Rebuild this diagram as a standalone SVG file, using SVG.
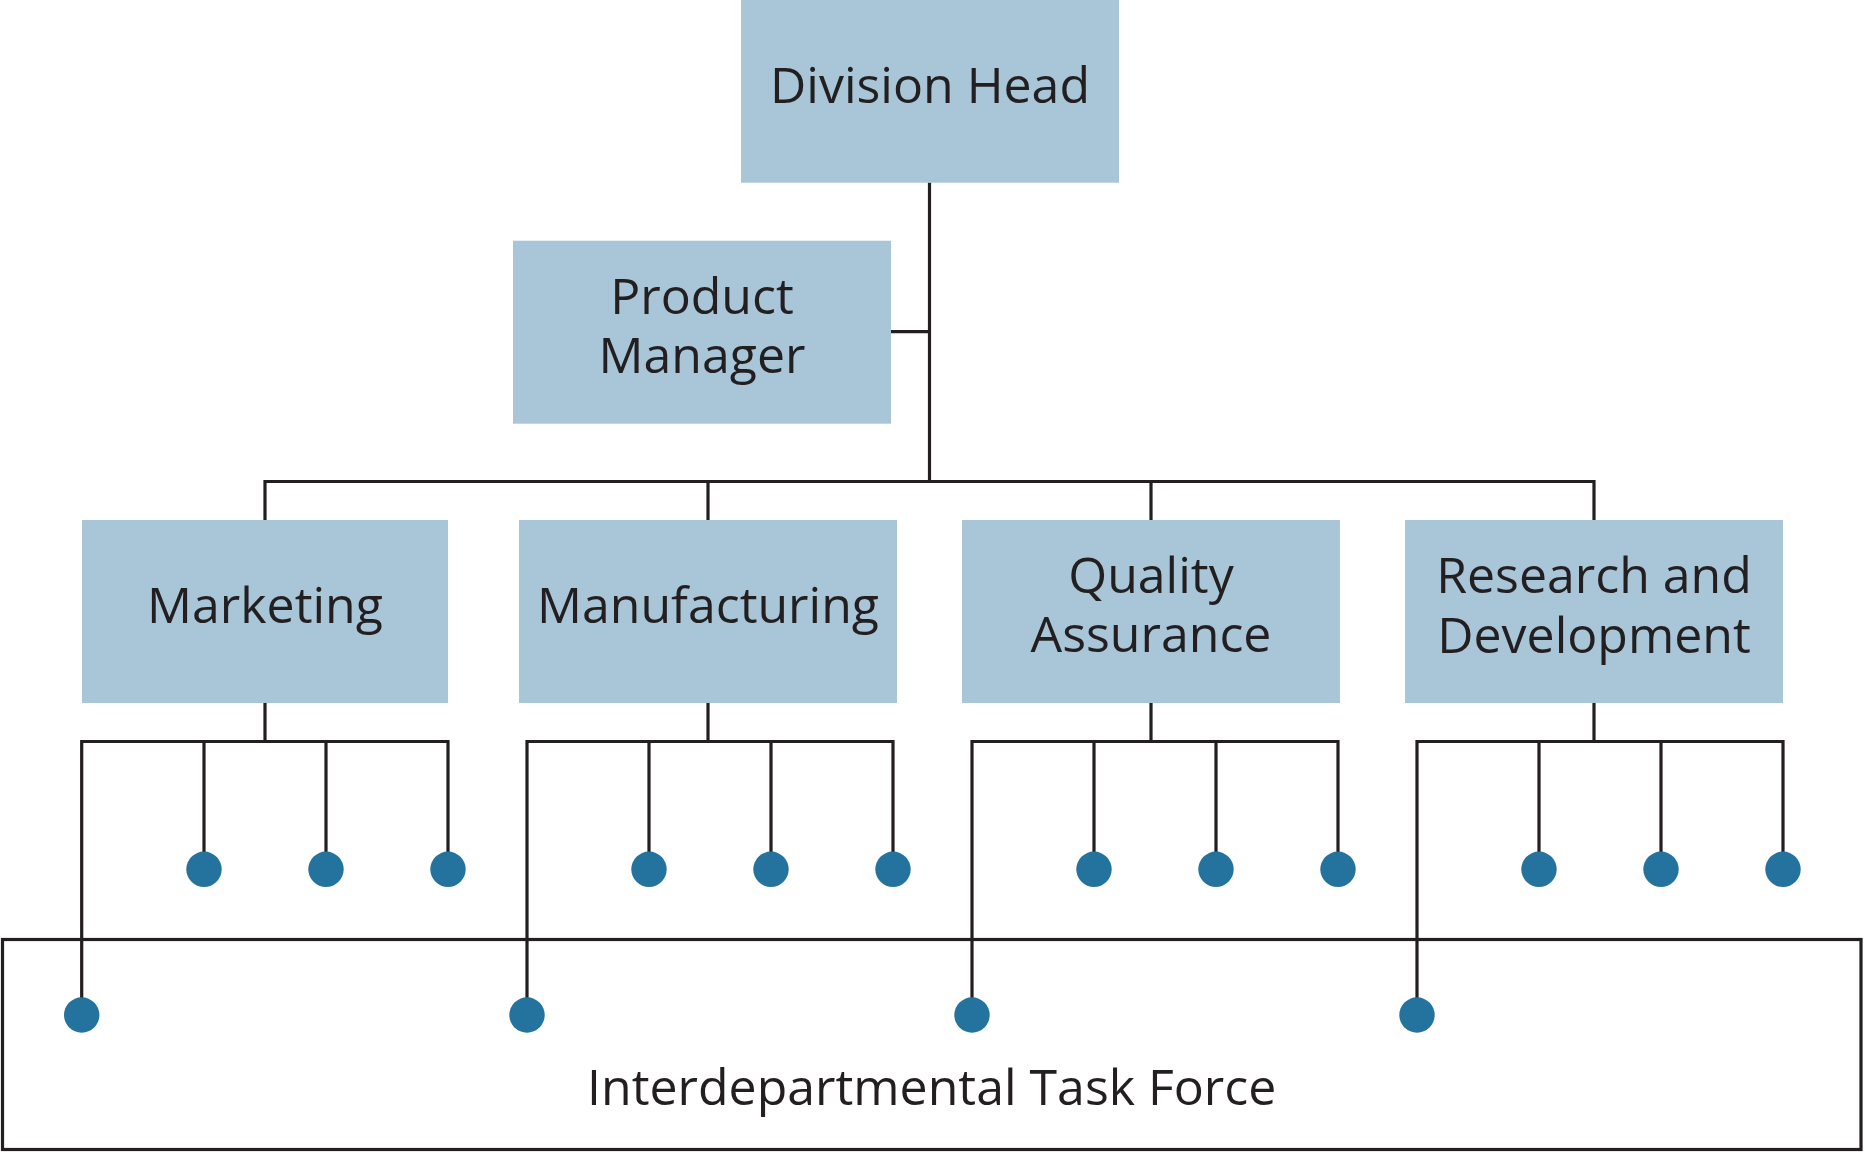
<svg xmlns="http://www.w3.org/2000/svg" width="1865" height="1152" viewBox="0 0 1865 1152">
<style>
.box{fill:#a8c6d8}
.lbl{font-family:"Open Sans","Noto Sans",sans-serif;font-size:50px;fill:#231f20;text-anchor:middle}
.ln{fill:none;stroke:#231f20;stroke-width:3.2;stroke-linejoin:miter;stroke-linecap:butt}
.dot{fill:#24739e}
</style>
<rect width="1865" height="1152" fill="#ffffff"/>
<g id="connectors">
<path class="ln" d="M929.5 182.5V481.5M891 331.7H929.5M265 520V481.5H1594V520M708 481.5V520M1151 481.5V520"/>
<path class="ln" d="M265 703V741.5M81.7 1015V741.5H448V869M204 741.5V869M326 741.5V869"/>
<path class="ln" d="M708 703V741.5M527 1015V741.5H893V869M649 741.5V869M771 741.5V869"/>
<path class="ln" d="M1151 703V741.5M972 1015V741.5H1338V869M1094 741.5V869M1216 741.5V869"/>
<path class="ln" d="M1594 703V741.5M1417 1015V741.5H1783V869M1539 741.5V869M1661 741.5V869"/>
</g>
<g id="division-head"><rect class="box" x="741" y="0" width="378" height="182.7"/><text class="lbl" x="930" y="102.7">Division Head</text></g>
<g id="product-manager"><rect class="box" x="513" y="240.7" width="378" height="183"/><text class="lbl" x="702" y="314">Product</text><text class="lbl" x="702" y="373">Manager</text></g>
<g id="marketing"><rect class="box" x="82" y="520" width="366" height="183"/><text class="lbl" x="265" y="623.3">Marketing</text></g>
<g id="manufacturing"><rect class="box" x="519" y="520" width="378" height="183"/><text class="lbl" x="708" y="623.3">Manufacturing</text></g>
<g id="quality-assurance"><rect class="box" x="962" y="520" width="378" height="183"/><text class="lbl" x="1151" y="593.3">Quality</text><text class="lbl" x="1151" y="652">Assurance</text></g>
<g id="research-development"><rect class="box" x="1405" y="520" width="378" height="183"/><text class="lbl" x="1594" y="592.7">Research and</text><text class="lbl" x="1594" y="652.7">Development</text></g>
<g id="task-force"><rect class="ln" x="2.5" y="939.5" width="1858.5" height="210"/><text class="lbl" x="931.7" y="1105">Interdepartmental Task Force</text></g>
<g id="members">
<circle class="dot" cx="204" cy="869.3" r="17.7"/><circle class="dot" cx="326" cy="869.3" r="17.7"/><circle class="dot" cx="448" cy="869.3" r="17.7"/>
<circle class="dot" cx="649" cy="869.3" r="17.7"/><circle class="dot" cx="771" cy="869.3" r="17.7"/><circle class="dot" cx="893" cy="869.3" r="17.7"/>
<circle class="dot" cx="1094" cy="869.3" r="17.7"/><circle class="dot" cx="1216" cy="869.3" r="17.7"/><circle class="dot" cx="1338" cy="869.3" r="17.7"/>
<circle class="dot" cx="1539" cy="869.3" r="17.7"/><circle class="dot" cx="1661" cy="869.3" r="17.7"/><circle class="dot" cx="1783" cy="869.3" r="17.7"/>
<circle class="dot" cx="81.7" cy="1015" r="17.7"/><circle class="dot" cx="527" cy="1015" r="17.7"/><circle class="dot" cx="972" cy="1015" r="17.7"/><circle class="dot" cx="1417" cy="1015" r="17.7"/>
</g>
</svg>
